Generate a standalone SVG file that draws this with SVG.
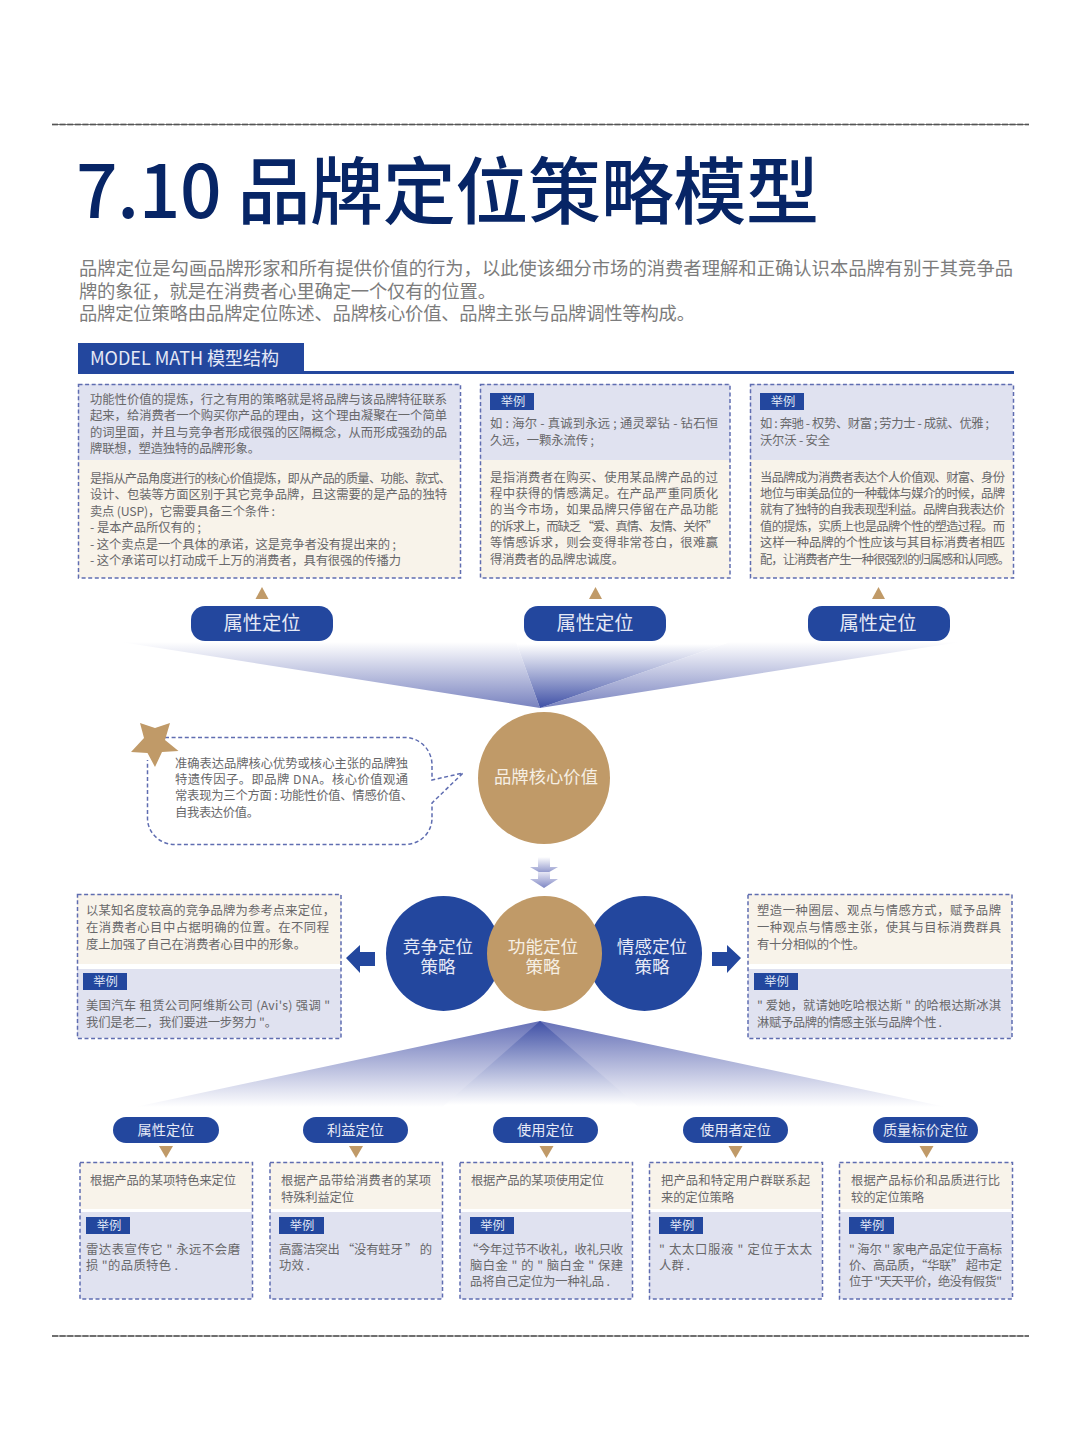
<svg xmlns="http://www.w3.org/2000/svg" width="1080" height="1439" viewBox="0 0 1080 1439">
<style>
text{font-family:"Noto Sans CJK SC","Noto Sans",sans-serif}
.b{font-size:12.3px;fill:#68686a}
.p{font-size:18.3px;fill:#7c7c7c}
.lav{fill:#e0e2f0}
.crm{fill:#f8f3ea}
.dash{fill:none;stroke:#5f6db1;stroke-width:1.5;stroke-dasharray:4 2.6}
.tag{fill:#23479e}
.tagt{font-size:12.3px;fill:#dfe4f4;text-anchor:middle}
.pl{font-size:19.3px;fill:#e6e9f6;text-anchor:middle}
.ps{font-size:14.2px;fill:#e6e9f6;text-anchor:middle}
.blue{fill:#23479e}
.tan{fill:#c09a68}
.ct{font-size:17.6px;text-anchor:middle;fill:#e6e9f6}
.ctt{font-size:17.6px;text-anchor:middle;fill:#f6efe4}
.rule1{stroke:#8b8b8b;stroke-width:2;stroke-dasharray:6 1.6;fill:none}
.rule2{stroke:#3c3c3c;stroke-width:.7;fill:none}
</style>
<defs>
<linearGradient id="fanA" gradientUnits="userSpaceOnUse" x1="0" y1="708" x2="0" y2="642"><stop offset="0" stop-color="#7882bf"/><stop offset="1" stop-color="#ffffff"/></linearGradient>
<linearGradient id="fanB" gradientUnits="userSpaceOnUse" x1="0" y1="708" x2="0" y2="644"><stop offset="0" stop-color="#3f50a6"/><stop offset="1" stop-color="#ffffff"/></linearGradient>
<linearGradient id="fanC" gradientUnits="userSpaceOnUse" x1="0" y1="1021" x2="0" y2="1107"><stop offset="0" stop-color="#6570b7"/><stop offset="1" stop-color="#ffffff"/></linearGradient>
<linearGradient id="fanD" gradientUnits="userSpaceOnUse" x1="0" y1="1021" x2="0" y2="1105"><stop offset="0" stop-color="#3f50a6"/><stop offset="1" stop-color="#ffffff"/></linearGradient>
<linearGradient id="chev1" gradientUnits="userSpaceOnUse" x1="0" y1="875" x2="0" y2="857"><stop offset="0" stop-color="#7f87c4"/><stop offset="1" stop-color="#ffffff"/></linearGradient>
<linearGradient id="chev2" gradientUnits="userSpaceOnUse" x1="0" y1="888" x2="0" y2="871"><stop offset="0" stop-color="#7f87c4"/><stop offset="1" stop-color="#eeeef8"/></linearGradient>
</defs>
<rect width="1080" height="1439" fill="#ffffff"/>

<g id="page-rules">
<line class="rule1" x1="52" y1="124.500" x2="1029" y2="124.500"/><line class="rule2" x1="52" y1="124.500" x2="1029" y2="124.500"/>
<line class="rule1" x1="52" y1="1336" x2="1029" y2="1336"/><line class="rule2" x1="52" y1="1336" x2="1029" y2="1336"/>
</g>

<g id="title">
<text x="76" y="218" font-size="73" font-weight="500" fill="#072566" textLength="743" lengthAdjust="spacing">7.10 品牌定位策略模型</text>
</g>

<g id="intro">
<text class="p" x="79" y="275" textLength="934">品牌定位是勾画品牌形家和所有提供价值的行为，以此使该细分市场的消费者理解和正确认识本品牌有别于其竞争品</text>
<text class="p" x="79" y="298" textLength="417">牌的象征，就是在消费者心里确定一个仅有的位置。</text>
<text class="p" x="79" y="320" textLength="616">品牌定位策略由品牌定位陈述、品牌核心价值、品牌主张与品牌调性等构成。</text>
</g>

<g id="section-header">
<rect class="tag" x="78" y="343" width="226" height="30"/>
<rect class="tag" x="78" y="371" width="936" height="3"/>
<text x="90" y="365" font-size="18" fill="#e6e9f6" textLength="189">MODEL MATH 模型结构</text>
</g>

<g id="connectors">
<polygon points="121,642 516,642 540,708" fill="url(#fanA)"/>
<polygon points="730,642 960,642 540,708" fill="url(#fanA)"/>
<polygon points="516,642 730,642 540,708" fill="url(#fanB)"/>
<polygon points="121,1110 960,1110 540,1021" fill="url(#fanC)"/>
<polygon points="439,1110 642,1110 540,1021" fill="url(#fanD)"/>
<polygon class="tan" points="255.500,599 268.500,599 262,587"/>
<polygon class="tan" points="589,599 602,599 595.500,587"/>
<polygon class="tan" points="872,599 885,599 878.500,587"/>
<polygon points="538,857 550,857 550,867 558,867 544,875 530,867 538,867" fill="url(#chev1)"/>
<polygon points="538,872 550,872 550,879 558,879 544,888 530,879 538,879" fill="url(#chev2)"/>
<polygon class="blue" points="346,958 360,945 360,952 375,952 375,966 360,966 360,973"/>
<polygon class="blue" points="741,958 727,945 727,952 712,952 712,966 727,966 727,973"/>
<polygon class="tan" points="159,1146 173,1146 166,1158"/>
<polygon class="tan" points="349,1146 363,1146 356,1158"/>
<polygon class="tan" points="539.500,1146 553.500,1146 546.500,1158"/>
<polygon class="tan" points="728.500,1146 742.500,1146 735.500,1158"/>
<polygon class="tan" points="919.500,1146 933.500,1146 926.500,1158"/>
</g>

<g id="box-top-1">
<rect class="lav" x="78" y="384" width="382" height="76"/>
<rect class="crm" x="78" y="460" width="382" height="118"/>
<rect class="dash" x="78.500" y="384.500" width="382" height="193.500"/>
<text class="b" x="90" y="403.500" textLength="357">功能性价值的提炼，行之有用的策略就是将品牌与该品牌特征联系</text>
<text class="b" x="90" y="420" textLength="357">起来，给消费者一个购买你产品的理由，这个理由凝聚在一个简单</text>
<text class="b" x="90" y="436.500" textLength="357">的词里面，并且与竞争者形成很强的区隔概念，从而形成强劲的品</text>
<text class="b" x="90" y="453" textLength="170">牌联想，塑造独特的品牌形象。</text>
<text class="b" x="90" y="482.500" textLength="361">是指从产品角度进行的核心价值提炼，即从产品的质量、功能、款式、</text>
<text class="b" x="90" y="499" textLength="357">设计、包装等方面区别于其它竞争品牌，且这需要的是产品的独特</text>
<text class="b" x="90" y="516" textLength="185">卖点 (USP)，它需要具备三个条件 :</text>
<text class="b" x="90" y="532" textLength="111">- 是本产品所仅有的 ;</text>
<text class="b" x="90" y="548.500" textLength="306">- 这个卖点是一个具体的承诺，这是竞争者没有提出来的 ;</text>
<text class="b" x="90" y="565" textLength="311">- 这个承诺可以打动成千上万的消费者，具有很强的传播力</text>
</g>

<g id="box-top-2">
<rect class="lav" x="480" y="384" width="250" height="76"/>
<rect class="crm" x="480" y="460" width="250" height="118"/>
<rect class="dash" x="480.500" y="384.500" width="249.500" height="193.500"/>
<rect class="tag" x="490" y="393" width="44" height="17"/>
<text class="tagt" x="513" y="405.500">举例</text>
<text class="b" x="490" y="428" textLength="228">如 : 海尔 - 真诚到永远 ; 通灵翠钻 - 钻石恒</text>
<text class="b" x="490" y="444.500" textLength="104">久远，一颗永流传 ;</text>
<text class="b" x="490" y="481.500" textLength="228">是指消费者在购买、使用某品牌产品的过</text>
<text class="b" x="490" y="498" textLength="228">程中获得的情感满足。在产品严重同质化</text>
<text class="b" x="490" y="514" textLength="228">的当今市场，如果品牌只停留在产品功能</text>
<text class="b" x="490" y="530.500" textLength="228">的诉求上，而缺乏 “爱、真情、友情、关怀”</text>
<text class="b" x="490" y="547" textLength="228">等情感诉求，则会变得非常苍白，很难赢</text>
<text class="b" x="490" y="563.500" textLength="134">得消费者的品牌忠诚度。</text>
</g>

<g id="box-top-3">
<rect class="lav" x="750" y="384" width="263" height="76"/>
<rect class="crm" x="750" y="460" width="263" height="118"/>
<rect class="dash" x="750.500" y="384.500" width="263" height="193.500"/>
<rect class="tag" x="760" y="393" width="44" height="17"/>
<text class="tagt" x="783" y="405.500">举例</text>
<text class="b" x="760" y="428" textLength="229">如 : 奔驰 - 权势、财富 ; 劳力士 - 成就、优雅 ;</text>
<text class="b" x="760" y="444.500" textLength="70">沃尔沃 - 安全</text>
<text class="b" x="760" y="481.500" textLength="245">当品牌成为消费者表达个人价值观、财富、身份</text>
<text class="b" x="760" y="498" textLength="245">地位与审美品位的一种载体与媒介的时候，品牌</text>
<text class="b" x="760" y="514" textLength="245">就有了独特的自我表现型利益。品牌自我表达价</text>
<text class="b" x="760" y="530.500" textLength="245">值的提炼，实质上也是品牌个性的塑造过程。而</text>
<text class="b" x="760" y="547" textLength="245">这样一种品牌的个性应该与其目标消费者相匹</text>
<text class="b" x="760" y="563.500" textLength="250">配，让消费者产生一种很强烈的归属感和认同感。</text>
</g>

<g id="pill-1"><rect class="blue" x="191" y="606" width="142" height="35" rx="14"/><text class="pl" x="262" y="630">属性定位</text></g>
<g id="pill-2"><rect class="blue" x="524" y="606" width="142" height="35" rx="14"/><text class="pl" x="595" y="630">属性定位</text></g>
<g id="pill-3"><rect class="blue" x="808" y="606" width="142" height="35" rx="14"/><text class="pl" x="878" y="630">属性定位</text></g>

<g id="brand-core">
<circle class="tan" cx="544" cy="778" r="66"/>
<text x="546" y="783" font-size="17.300" fill="#f6efe4" text-anchor="middle" textLength="104">品牌核心价值</text>
</g>

<g id="callout">
<path class="dash" d="M165,737.500H405C420,737.500 432,750 432,765V780L463,773L432,803V818C432,833 420,844.500 405,844.500H175C160,844.500 147.500,833 147.500,818V760"/>
<polygon class="tan" points="140,723 155,728 170,723 165,740 178.500,751 162,752 155,767 147.500,753 131,752 144,738"/>
<text class="b" x="175" y="767.500" textLength="233">准确表达品牌核心优势或核心主张的品牌独</text>
<text class="b" x="175" y="783.500" textLength="233">特遗传因子。即品牌 DNA。核心价值观通</text>
<text class="b" x="175" y="799.500" textLength="238">常表现为三个方面 : 功能性价值、情感价值、</text>
<text class="b" x="175" y="816.500" textLength="84">自我表达价值。</text>
</g>

<g id="node-compete"><circle class="blue" cx="443.500" cy="953.500" r="57.500"/><text class="ct"><tspan x="438" y="953">竞争定位</tspan><tspan x="438" y="973">策略</tspan></text></g>
<g id="node-emotion"><circle class="blue" cx="644.500" cy="953.500" r="57.500"/><text class="ct"><tspan x="652" y="953">情感定位</tspan><tspan x="652" y="973">策略</tspan></text></g>
<g id="node-function"><circle class="tan" cx="544.500" cy="953.500" r="57.500"/><text class="ctt"><tspan x="543" y="953">功能定位</tspan><tspan x="543" y="973">策略</tspan></text></g>

<g id="box-mid-left">
<rect class="crm" x="77" y="894" width="264" height="70"/>
<rect class="lav" x="77" y="969" width="264" height="69"/>
<rect class="dash" x="77.500" y="894.500" width="263.500" height="144"/>
<text class="b" x="86" y="915" textLength="249">以某知名度较高的竞争品牌为参考点来定位，</text>
<text class="b" x="86" y="932" textLength="243">在消费者心目中占据明确的位置。在不同程</text>
<text class="b" x="86" y="948.500" textLength="220">度上加强了自己在消费者心目中的形象。</text>
<rect class="tag" x="83" y="973" width="44" height="17"/>
<text class="tagt" x="105.500" y="985.500">举例</text>
<text class="b" x="86" y="1010" textLength="244">美国汽车 租赁公司阿维斯公司 (Avi's) 强调 "</text>
<text class="b" x="86" y="1026.500" textLength="191">我们是老二，我们要进一步努力 "。</text>
</g>

<g id="box-mid-right">
<rect class="crm" x="748" y="894" width="264" height="70"/>
<rect class="lav" x="748" y="969" width="264" height="69"/>
<rect class="dash" x="748" y="894.500" width="264" height="144"/>
<text class="b" x="757" y="915" textLength="244">塑造一种圈层、观点与情感方式，赋予品牌</text>
<text class="b" x="757" y="932" textLength="244">一种观点与情感主张，使其与目标消费群具</text>
<text class="b" x="757" y="948.500" textLength="108">有十分相似的个性。</text>
<rect class="tag" x="754" y="973" width="44" height="17"/>
<text class="tagt" x="776.500" y="985.500">举例</text>
<text class="b" x="757" y="1010" textLength="244">" 爱她，就请她吃哈根达斯 " 的哈根达斯冰淇</text>
<text class="b" x="757" y="1026.500" textLength="185">淋赋予品牌的情感主张与品牌个性 .</text>
</g>

<g id="pos-1">
<rect class="blue" x="113" y="1117" width="106" height="26" rx="13"/><text class="ps" x="166" y="1135">属性定位</text>
<rect class="crm" x="80" y="1162" width="172" height="47"/><rect class="lav" x="80" y="1212" width="172" height="87"/>
<rect class="dash" x="80" y="1162.500" width="172.500" height="136.500"/>
<text class="b" x="90" y="1184.500" textLength="146">根据产品的某项特色来定位</text>
<rect class="tag" x="86" y="1217" width="44" height="17"/><text class="tagt" x="109" y="1229.500">举例</text>
<text class="b" x="86" y="1253.500" textLength="154">雷达表宣传它 " 永远不会磨</text>
<text class="b" x="86" y="1269.500" textLength="92">损 "的品质特色 .</text>
</g>
<g id="pos-2">
<rect class="blue" x="303" y="1117" width="105" height="26" rx="13"/><text class="ps" x="355.500" y="1135">利益定位</text>
<rect class="crm" x="270" y="1162" width="172" height="47"/><rect class="lav" x="270" y="1212" width="172" height="87"/>
<rect class="dash" x="270" y="1162.500" width="172.500" height="136.500"/>
<text class="b" x="281" y="1184.500" textLength="150">根据产品带给消费者的某项</text>
<text class="b" x="281" y="1201.500" textLength="73">特殊利益定位</text>
<rect class="tag" x="279" y="1217" width="45" height="17"/><text class="tagt" x="302" y="1229.500">举例</text>
<text class="b" x="279" y="1253.500" textLength="153">高露洁突出 “没有蛀牙 ” 的</text>
<text class="b" x="279" y="1269.500" textLength="31">功效 .</text>
</g>
<g id="pos-3">
<rect class="blue" x="493" y="1117" width="105" height="26" rx="13"/><text class="ps" x="545.500" y="1135">使用定位</text>
<rect class="crm" x="460" y="1162" width="172" height="47"/><rect class="lav" x="460" y="1212" width="172" height="87"/>
<rect class="dash" x="460" y="1162.500" width="172.500" height="136.500"/>
<text class="b" x="471" y="1184.500" textLength="133">根据产品的某项使用定位</text>
<rect class="tag" x="470" y="1217" width="44" height="17"/><text class="tagt" x="492.500" y="1229.500">举例</text>
<text class="b" x="466" y="1253.500" textLength="157">“今年过节不收礼，收礼只收</text>
<text class="b" x="470" y="1269.500" textLength="153">脑白金 " 的 " 脑白金 " 保建</text>
<text class="b" x="470" y="1285.500" textLength="140">品将自己定位为一种礼品 .</text>
</g>
<g id="pos-4">
<rect class="blue" x="683" y="1117" width="105" height="26" rx="13"/><text class="ps" x="735.500" y="1135">使用者定位</text>
<rect class="crm" x="649" y="1162" width="173" height="47"/><rect class="lav" x="649" y="1212" width="173" height="87"/>
<rect class="dash" x="649.500" y="1162.500" width="173" height="136.500"/>
<text class="b" x="661" y="1184.500" textLength="149">把产品和特定用户群联系起</text>
<text class="b" x="661" y="1201.500" textLength="73">来的定位策略</text>
<rect class="tag" x="659" y="1217" width="44" height="17"/><text class="tagt" x="682" y="1229.500">举例</text>
<text class="b" x="659" y="1253.500" textLength="153">" 太太口服液 " 定位于太太</text>
<text class="b" x="659" y="1269.500" textLength="31">人群 .</text>
</g>
<g id="pos-5">
<rect class="blue" x="873" y="1117" width="105" height="26" rx="13"/><text class="ps" x="925.500" y="1135">质量标价定位</text>
<rect class="crm" x="839" y="1162" width="173" height="47"/><rect class="lav" x="839" y="1212" width="173" height="87"/>
<rect class="dash" x="839.500" y="1162.500" width="173" height="136.500"/>
<text class="b" x="851" y="1184.500" textLength="149">根据产品标价和品质进行比</text>
<text class="b" x="851" y="1201.500" textLength="73">较的定位策略</text>
<rect class="tag" x="849" y="1217" width="45" height="17"/><text class="tagt" x="872" y="1229.500">举例</text>
<text class="b" x="849" y="1253.500" textLength="153">" 海尔 " 家电产品定位于高标</text>
<text class="b" x="849" y="1269.500" textLength="153">价、高品质，“华联” 超市定</text>
<text class="b" x="849" y="1285.500" textLength="153">位于 "天天平价，绝没有假货"</text>
</g>
</svg>
